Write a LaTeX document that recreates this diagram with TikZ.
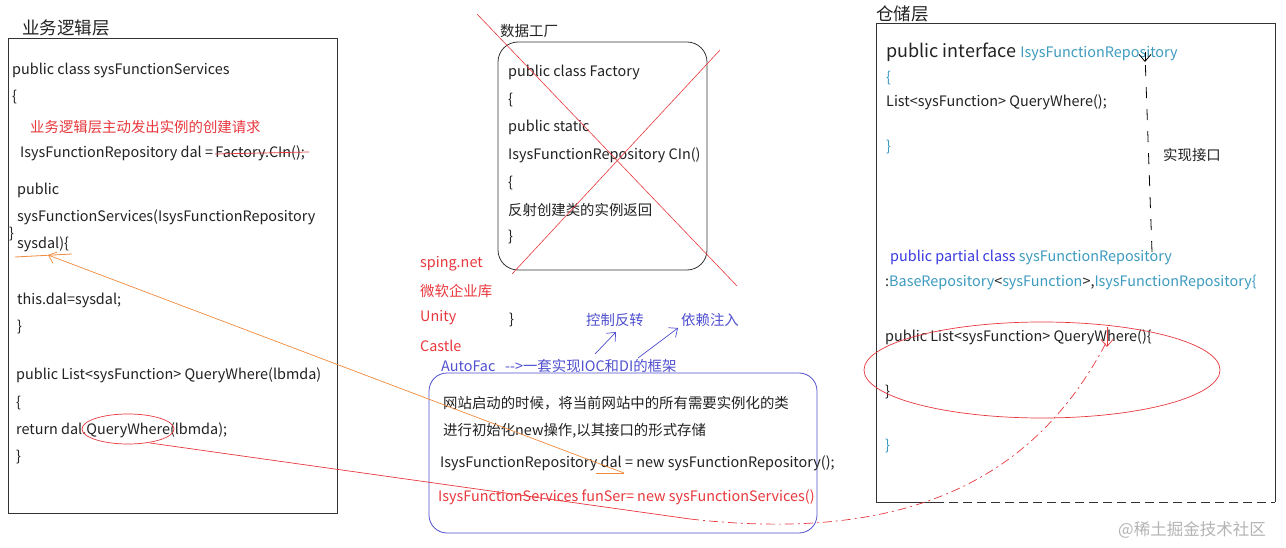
\documentclass[tikz,border=0pt]{standalone}
\usepackage{fontspec}
\setmainfont{Noto Sans CJK SC}
\usetikzlibrary{arrows.meta}
\definecolor{myred}{HTML}{E8383D}
\definecolor{myteal}{HTML}{3D9BBF}
\definecolor{myblue}{HTML}{3A3AE0}
\definecolor{annblue}{HTML}{5050D0}
\definecolor{myorange}{HTML}{F08A3C}
\definecolor{mygrey}{HTML}{B4B4B4}
\definecolor{txt}{HTML}{222222}
\begin{document}
\begin{tikzpicture}[x=1pt,y=-1pt,
  code/.style={anchor=west,inner sep=0pt,text=txt,font=\fontsize{14.4}{16}\selectfont},
  title/.style={anchor=west,inner sep=0pt,text=txt,font=\fontsize{17.5}{20}\selectfont},
  frame/.style={draw=black!80,line width=0.8pt},
  redline/.style={draw=myred,line width=0.7pt},
  barb/.style={-{Straight Barb[length=7pt,width=12pt]}}
]
\useasboundingbox (0,0) rectangle (1286,548);
\fill[white] (0,0) rectangle (1286,548);

% ---------------- left box
\node[title] (tl) at (22,28) {业务逻辑层};
\draw[frame] (8,38) rectangle (337,513);
\node[code] (l1) at (12,70) {public class sysFunctionServices};
\node[code] (l2) at (12,97) {\{};
\node[code,text=myred] (l3) at (30,127) {业务逻辑层主动发出实例的创建请求};
\node[code] (l4) at (20,153) {IsysFunctionRepository dal =\ };
\node[code] (l4b) at ([xshift=2pt]l4.east) {Factory.CIn();};
\draw[redline] ([yshift=-1pt]l4b.west) -- ([xshift=4pt,yshift=1pt]l4b.east);
\node[code] (l5) at (17,190) {public};
\node[code] (l6) at (17,217) {sysFunctionServices(IsysFunctionRepository};
\node[code] (l6b) at (9,234) {\}};
\node[code] (l7) at (17,244) {sysdal)\{};
\coordinate (sysU1) at (15,257);
\coordinate (sysU2) at (72,254);
\coordinate (sysTip) at (48,255);
\draw[myorange,line width=0.8pt] (sysU1) -- (sysU2);
\node[code] (l8) at (17,300) {this.dal=sysdal;};
\node[code] (l9) at (17,327) {\}};
\node[code] (l10) at (16,375) {public List<sysFunction> QueryWhere(lbmda)};
\node[code] (l11) at (16,403) {\{};
\node[code] (l12) at (16,430) {return dal.QueryWhere(lbmda);};
\node[code] (l13) at (16,457) {\}};
\draw[redline] (128,429) ellipse[x radius=46,y radius=15];
\coordinate (ellB) at (150,443);

% ---------------- factory box
\node[code,font=\fontsize{14.5}{16}\selectfont] (tf) at (500,31) {数据工厂};
\draw[frame,rounded corners=20pt] (498,42) rectangle (707,270);
\node[code] (f1) at (508,72) {public class Factory};
\node[code] (f2) at (508,100) {\{};
\node[code] (f3) at (508,127) {public static};
\node[code] (f4) at (508,155) {IsysFunctionRepository CIn()};
\node[code] (f5) at (508,183) {\{};
\node[code] (f6) at (508,210) {反射创建类的实例返回};
\node[code] (f7) at (508,237) {\}};
\coordinate (x1a) at (477,14);
\coordinate (x1b) at (737,286);
\coordinate (x2a) at (720,50);
\coordinate (x2b) at (512,274);
\draw[redline,line width=0.6pt] (x1a) -- (x1b);
\draw[redline,line width=0.6pt] (x2a) -- (x2b);

% ---------------- frameworks
\node[code,text=myred] (s1) at (420,264) {sping.net};
\node[code,text=myred] (s2) at (420,291) {微软企业库};
\node[code,text=myred] (s3) at (420,318) {Unity};
\node[code,text=myred] (s4) at (420,346) {Castle};
\node[code] (fb) at (509,320) {\}};
\node[code,text=annblue] (ioc) at (586,320) {控制反转};
\node[code,text=annblue] (di) at (681,320) {依赖注入};
\coordinate (a1s) at (595,354);
\coordinate (a1e) at (616,332);
\coordinate (a2s) at (638,358);
\coordinate (a2e) at (678,328);
\draw[annblue,line width=0.7pt,barb] (a1s) -- (a1e);
\draw[annblue,line width=0.7pt,barb] (a2s) -- (a2e);
\node[code,text=annblue] (af) at (441,366) {AutoFac\ \ \ -{}-{}>一套实现IOC和DI的框架};

% ---------------- container box
\draw[draw=annblue,line width=0.8pt,rounded corners=18pt] (429,373) rectangle (817,533);
\node[code] (c1) at (443,403) {网站启动的时候，将当前网站中的所有需要实例化的类};
\node[code] (c2) at (443,431) {进行初始化new操作,以其接口的形式存储};
\node[code] (c3) at (440,463) {IsysFunctionRepository dal = new sysFunctionRepository();};
\node[code,text=myred] (c4) at (438,497) {IsysFunctionServices funSer= new sysFunctionServices()};
\coordinate (dalU1) at (596,473);
\coordinate (dalU2) at (624,473);
\draw[myorange,line width=0.8pt] (dalU1) -- (dalU2);
\draw[myorange,line width=0.7pt,barb] (dalU2) -- (sysTip);

% ---------------- repository box
\node[title] (tr) at (876,14) {仓储层};
\draw[frame] (935,502) -- (876,502) -- (876,23) -- (1275,23) -- (1275,502);
\draw[frame,dash pattern=on 9pt off 5pt] (935,502) -- (1275,502);
\node[code] (r1) at (886,52) {{\fontsize{18}{20}\selectfont public interface }{\color{myteal}IsysFunctionRepository}};
\node[code,text=myteal] (r2) at (886,78) {\{};
\node[code] (r3) at (886,102) {List<sysFunction> QueryWhere();};
\node[code,text=myteal] (r4) at (886,147) {\}};
\node[code] (impl) at (1163,155) {实现接口};
\coordinate (impS) at (1152,252);
\coordinate (impE) at (1145,62);
\draw[black,line width=0.8pt,dash pattern=on 11pt off 11pt] (impS) -- ([yshift=8pt]impE);
\draw[black,line width=0.8pt,barb] ([yshift=10pt]impE) -- (impE);
\node[code] (r5) at (890,257) {{\color{myblue}public partial class }{\color{myteal}sysFunctionRepository}};
\node[code] (r6) at (885,282) {:{\color{myteal}BaseRepository}<{\color{myteal}sysFunction}>,{\color{myteal}IsysFunctionRepository\{}};
\node[code] (r7) at (885,337) {public List<sysFunction> QueryWhere()\{};
\node[code] (r8) at (885,392) {\}};
\node[code,text=myteal] (r9) at (885,446) {\}};
\draw[redline] (1042,370) ellipse[x radius=178,y radius=48];
\coordinate (qwTip) at (1107,347);

% red connector from left QueryWhere to repository QueryWhere
\coordinate (mid) at (690,519);
\draw[redline] (ellB) -- (mid);
\draw[redline,dash pattern=on 9pt off 4pt on 2pt off 4pt] (mid) .. controls (920,545) and (1040,470) .. ([yshift=6pt]qwTip);
\draw[redline,barb] ([yshift=20pt]qwTip) -- (qwTip);

% watermark
\node[anchor=west,inner sep=0pt,text=mygrey,font=\fontsize{16.5}{18}\selectfont] (wm) at (1118,530) {@稀土掘金技术社区};
\end{tikzpicture}
\end{document}
